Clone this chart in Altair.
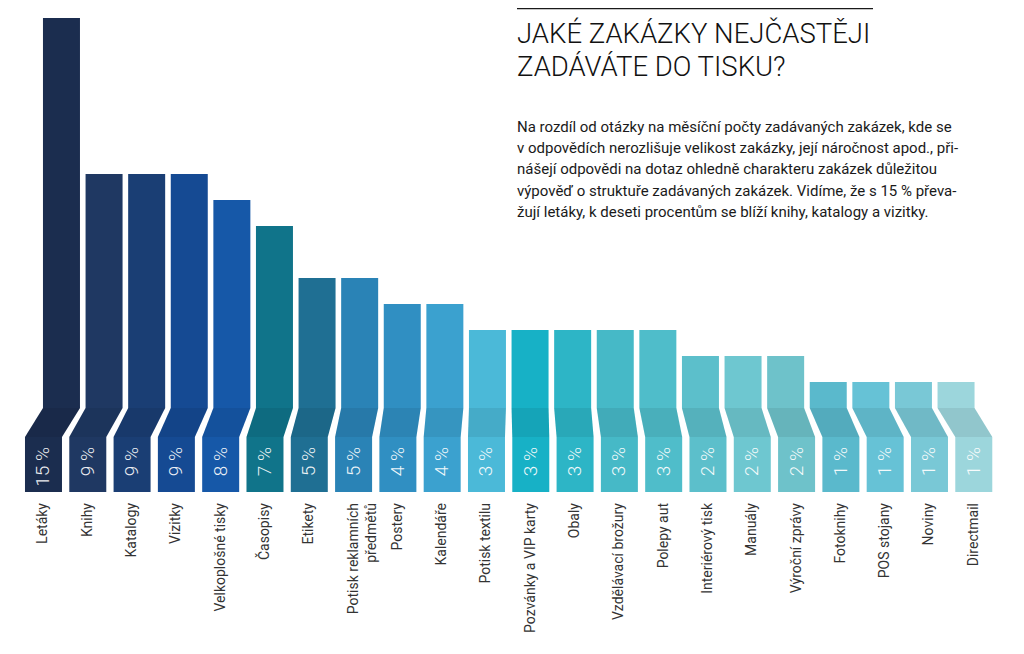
import altair as alt
import pandas as pd

# ---------------- data ----------------
categories = [
    "Letáky", "Knihy", "Katalogy", "Vizitky", "Velkoplošné tisky", "Časopisy",
    "Etikety", "Potisk reklamních\npředmětů", "Postery", "Kalendáře",
    "Potisk textilu", "Pozvánky a VIP karty", "Obaly", "Vzdělávací brožury",
    "Polepy aut", "Interiérový tisk", "Manuály", "Výroční zprávy",
    "Fotoknihy", "POS stojany", "Noviny", "Directmail",
]
values = [15, 9, 9, 9, 8, 7, 5, 5, 4, 4, 3, 3, 3, 3, 3, 2, 2, 2, 1, 1, 1, 1]
value_labels = [f"{v} %" for v in values]
colors = [
    "#1b2d4f", "#1f3862", "#1a3e74", "#154a93", "#1658a8", "#10748a",
    "#1f6f93", "#2a83b6", "#308fc2", "#3ba1cf", "#4bb9d8", "#17b1c6",
    "#2db5c6", "#46b9c7", "#4fbdca", "#5cbfcb", "#6ec7d0", "#6ec2ca",
    "#5ab9cc", "#66c2d6", "#79c8d6", "#9cd6dc",
]

title_text = "JAKÉ ZAKÁZKY NEJČASTĚJI\nZADÁVÁTE DO TISKU?"
paragraph_text = (
    "Na rozdíl od otázky na měsíční počty zadávaných zakázek, kde se\n"
    "v odpovědích nerozlišuje velikost zakázky, její náročnost apod., při-\n"
    "nášejí odpovědi na dotaz ohledně charakteru zakázek důležitou\n"
    "výpověď o struktuře zadávaných zakázek. Vidíme, že s 15 % převa-\n"
    "žují letáky, k deseti procentům se blíží knihy, katalogy a vizitky."
)

# ---------------- layout (style) ----------------
W, H = 1008, 638
X_DOMAIN = [-0.801, 21.953]
Y_DOMAIN = [-9.154, 15.385]
HALF = 0.4176            # half bar width in slot units
UPPER_START, UPPER_PITCH = 0.406, 0.9616   # upper parts converge slightly
FOLD_DEPTH = 1.115       # ribbon fold below the baseline
BOX_DEPTH = 3.23         # bottom of the label box

idx = list(range(len(categories)))
df = pd.DataFrame({
    "cat": categories,
    "value": values,
    "label": value_labels,
    "i": idx,
})
df["lc"] = df["i"].astype(float)
df["uc"] = UPPER_START + UPPER_PITCH * df["i"]
df["l_left"] = df["lc"] - HALF
df["l_right"] = df["lc"] + HALF
df["u_left"] = df["uc"] - HALF
df["u_right"] = df["uc"] + HALF
df["zero"] = 0.0
df["fold_y"] = -FOLD_DEPTH
df["box_y"] = -BOX_DEPTH

fold_rows = []
for _, r in df.iterrows():
    fold_rows.append({"cat": r["cat"], "fy": 0.0, "fx": r["u_left"], "fx2": r["u_right"]})
    fold_rows.append({"cat": r["cat"], "fy": -FOLD_DEPTH, "fx": r["l_left"], "fx2": r["l_right"]})
fold_df = pd.DataFrame(fold_rows)

xs = alt.Scale(domain=X_DOMAIN, nice=False, zero=False)
ys = alt.Scale(domain=Y_DOMAIN, nice=False, zero=False)
cs = alt.Scale(domain=categories, range=colors)

base = alt.Chart(df)

upper = base.mark_rect().encode(
    x=alt.X("u_left:Q", scale=xs, axis=None),
    x2="u_right:Q",
    y=alt.Y("value:Q", scale=ys, axis=None),
    y2="zero:Q",
    color=alt.Color("cat:N", scale=cs, legend=None),
)

fold = alt.Chart(fold_df).mark_area(orient="horizontal").encode(
    x=alt.X("fx:Q", scale=xs, axis=None, stack=None),
    x2="fx2:Q",
    y=alt.Y("fy:Q", scale=ys, axis=None),
    detail="cat:N",
    color=alt.Color("cat:N", scale=cs, legend=None),
)
fold_shade = alt.Chart(fold_df).mark_area(orient="horizontal", color="#000000", opacity=0.07).encode(
    x=alt.X("fx:Q", scale=xs, axis=None, stack=None),
    x2="fx2:Q",
    y=alt.Y("fy:Q", scale=ys, axis=None),
    detail="cat:N",
)

box = base.mark_rect().encode(
    x=alt.X("l_left:Q", scale=xs, axis=None),
    x2="l_right:Q",
    y=alt.Y("fold_y:Q", scale=ys, axis=None),
    y2="box_y:Q",
    color=alt.Color("cat:N", scale=cs, legend=None),
)

pct = base.mark_text(
    angle=270, align="right", baseline="middle", font="Roboto",
    fontSize=19, fontWeight=300, color="#ffffff", opacity=0.92,
).encode(
    x=alt.X("lc:Q", scale=xs, axis=None),
    y=alt.value(439),
    text="label:N",
)

cat_labels = base.mark_text(
    angle=270, align="right", baseline="middle", font="Roboto",
    fontSize=14, color="#333333", lineBreak="\n", lineHeight=18,
).encode(
    x=alt.X("lc:Q", scale=xs, axis=None),
    y=alt.value(495),
    text="cat:N",
)

one = pd.DataFrame({"title": [title_text], "para": [paragraph_text]})

title = alt.Chart(one).mark_text(
    align="left", baseline="alphabetic", font="Roboto", fontSize=27.5,
    fontWeight=300, color="#111111", lineBreak="\n", lineHeight=33,
).encode(x=alt.value(509), y=alt.value(35), text="title:N")

para = alt.Chart(one).mark_text(
    align="left", baseline="alphabetic", font="Roboto", fontSize=15,
    color="#1a1a1a", lineBreak="\n", lineHeight=21.2,
).encode(x=alt.value(509), y=alt.value(124), text="para:N")

rule = alt.Chart(one).mark_rule(color="#1a1a1a", strokeWidth=1.2).encode(
    x=alt.value(509), x2=alt.value(865), y=alt.value(0.6)
)

chart = alt.layer(
    upper, fold, fold_shade, box, pct, cat_labels, title, para, rule
).properties(
    width=W, height=H,
    autosize=alt.AutoSizeParams(type="none"),
    padding=0,
).configure_view(stroke=None)

chart.save("out.html", embed_options={"renderer": "svg", "actions": False})
